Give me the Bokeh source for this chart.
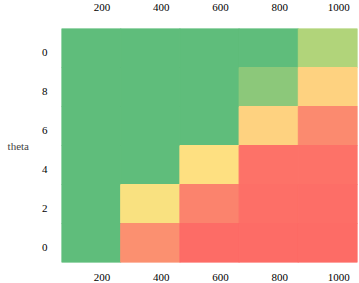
import numpy as np
from bokeh.plotting import figure
from bokeh.models import ColumnDataSource, LinearColorMapper, LinearAxis, FixedTicker
from bokeh.embed import file_html
from bokeh.resources import INLINE

# data
x_values = [200, 400, 600, 800, 1000]
theta_values = [10, 8, 6, 4, 2, 0]
theta_labels = ["0", "8", "6", "4", "2", "0"]
x_labels = ["200", "400", "600", "800", "1000"]
row_theta10 = [0.0, 0.0, 0.0, 0.0, 0.30]
row_theta8 = [0.0, 0.0, 0.0, 0.20, 0.52]
row_theta6 = [0.0, 0.0, 0.0, 0.52, 0.76]
row_theta4 = [0.0, 0.0, 0.46, 0.95, 0.95]
row_theta2 = [0.0, 0.44, 0.82, 0.97, 0.98]
row_theta0 = [0.0, 0.74, 1.0, 1.0, 1.0]
rows = [row_theta10, row_theta8, row_theta6, row_theta4, row_theta2, row_theta0]

xs, ys, vs = [], [], []
for t, row in zip(theta_values, rows):
    for xv, v in zip(x_values, row):
        xs.append(xv)
        ys.append(t)
        vs.append(v)
src = ColumnDataSource(dict(x=xs, y=ys, v=vs))

# palette green -> yellow -> red
stops = [0.0, 0.2, 0.3, 0.45, 0.52, 0.76, 1.0]
cols = [(95, 189, 123), (140, 200, 122), (178, 212, 122), (254, 226, 129),
        (254, 210, 128), (251, 138, 111), (253, 108, 102)]
cols = np.array(cols, dtype=float)
pal = []
for s in np.linspace(0, 1, 256):
    r = np.interp(s, stops, cols[:, 0])
    g = np.interp(s, stops, cols[:, 1])
    b = np.interp(s, stops, cols[:, 2])
    pal.append("#%02x%02x%02x" % (int(round(r)), int(round(g)), int(round(b))))
mapper = LinearColorMapper(palette=pal, low=0, high=1)

p = figure(width=359, height=283, x_range=(100, 1100), y_range=(-1, 11),
           output_backend="svg", toolbar_location=None,
           min_border_left=61, min_border_right=2, min_border_top=28, min_border_bottom=20)
p.outline_line_color = None
p.grid.visible = False
p.background_fill_color = "white"

p.rect(x="x", y="y", width=200, height=2, source=src,
       fill_color={"field": "v", "transform": mapper},
       line_color={"field": "v", "transform": mapper}, line_width=1)

FONT = "Liberation Serif"
XSHIFT = 37      # tick labels sit slightly right of the cell centres
YSHIFT = 0.25    # and slightly below the row centres

def style(ax, standoff):
    ax.ticker = FixedTicker(ticks=[v + XSHIFT for v in x_values])
    ax.major_label_overrides = {v + XSHIFT: l for v, l in zip(x_values, x_labels)}
    ax.axis_line_color = None
    ax.major_tick_line_color = None
    ax.minor_tick_line_color = None
    ax.major_label_text_font = FONT
    ax.major_label_text_font_size = "11px"
    ax.major_label_text_color = "#000000"
    ax.major_label_standoff = standoff

style(p.xaxis[0], 5)
top = LinearAxis()
style(top, 12)
p.add_layout(top, "above")

ya = p.yaxis[0]
ya.ticker = FixedTicker(ticks=[t - YSHIFT for t in theta_values])
ya.major_label_overrides = {t - YSHIFT: l for t, l in zip(theta_values, theta_labels)}
ya.axis_line_color = None
ya.major_tick_line_color = None
ya.minor_tick_line_color = None
ya.major_label_text_font = FONT
ya.major_label_text_font_size = "11px"
ya.major_label_text_color = "#000000"
ya.major_label_standoff = 8
ya.axis_label = "theta"
ya.axis_label_orientation = "horizontal"
ya.axis_label_text_font = FONT
ya.axis_label_text_font_style = "normal"
ya.axis_label_text_font_size = "11px"
ya.axis_label_standoff = 10

open("out.html", "w").write(file_html(p, INLINE))
